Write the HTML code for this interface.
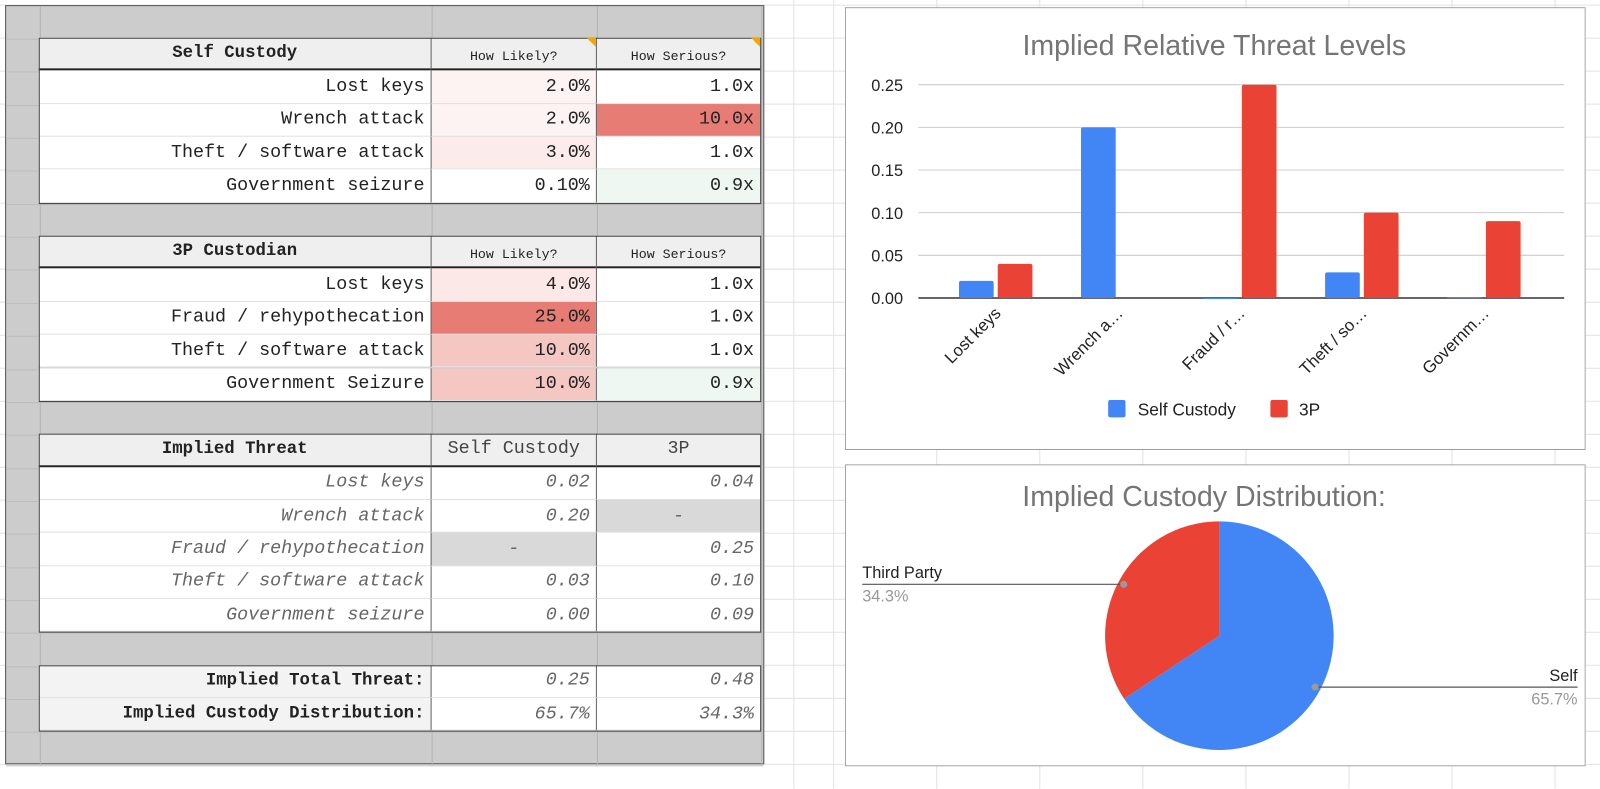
<!DOCTYPE html>
<html><head><meta charset="utf-8"><style>
body{margin:0;width:1600px;height:773px;position:relative;overflow:hidden;background:#fff;font-family:"Liberation Sans",sans-serif}
#wrap{position:absolute;left:0;top:0;width:1568px;height:758px;transform:scale(1.0204);transform-origin:0 0}
.abs{position:absolute;box-sizing:border-box}
.c{position:absolute;box-sizing:border-box;font-family:"Liberation Mono",monospace;font-size:18px;color:#222;text-align:right;padding-right:6px;display:flex;align-items:center;justify-content:flex-end;white-space:nowrap}
.hd{font-size:13px;justify-content:center;padding:0;padding-top:6px}
.bold{font-weight:bold;font-size:17px}
.it{font-style:italic;color:#666}
svg text{font-family:"Liberation Sans",sans-serif}
</style></head><body>
<div id="wrap">
<svg id="bg" class="abs" style="left:0;top:0" width="1600" height="773"></svg>
<div id="panel" class="abs" style="left:5px;top:5px;width:744px;height:744px;background:#cccccc;border:1px solid #555"></div>
<div id="cells"></div>

<svg id="bar" class="abs" style="left:828px;top:7px" width="726" height="434"></svg>
<svg id="pie" class="abs" style="left:828px;top:455px" width="726" height="296"></svg>
</div>
<script>
const NS='http://www.w3.org/2000/svg';
function mk(tag,attrs,parent){const e=document.createElementNS(NS,tag);for(const k in attrs)e.setAttribute(k,attrs[k]);parent.appendChild(e);return e;}
const bg=document.getElementById('bg');
for(let y=5;y<773;y+=32.35){mk('line',{x1:0,x2:1600,y1:y,y2:y,stroke:'#e2e2e2','stroke-width':1},bg);}
[778,817,918,1019,1120,1221,1322,1423,1524].forEach(x=>mk('line',{x1:x,x2:x,y1:0,y2:773,stroke:'#e2e2e2','stroke-width':1},bg));

const cells=document.getElementById('cells');
const X=[38,422,584,745];
const RH=32.35,Y0=37;
function ry(i){return Y0+i*RH;}
const panel=document.getElementById('panel');
[38,422,584,745].forEach(x=>{const d=document.createElement('div');d.className='abs';d.style.cssText=`left:${x-5}px;top:0;width:1px;height:744px;background:#b4b4b4`;


panel.appendChild(d);});
for(let i=0;i<=22;i++){const d=document.createElement('div');d.className='abs';d.style.cssText=`left:0;top:${ry(i)-5}px;width:742px;height:1px;background:#bdbdbd`;


panel.appendChild(d);}

const rows=[
 {i:0,t:'hdr',v:['Self Custody','How Likely?','How Serious?'],bg:['#efefef','#efefef','#efefef']},
 {i:1,v:['Lost keys','2.0%','1.0x'],bg:['#fff','#fdf3f2','#fff']},
 {i:2,v:['Wrench attack','2.0%','10.0x'],bg:['#fff','#fdf3f2','#e67c73']},
 {i:3,v:['Theft / software attack','3.0%','1.0x'],bg:['#fff','#fbeceb','#fff']},
 {i:4,v:['Government seizure','0.10%','0.9x'],bg:['#fff','#fff','#eef7f1']},
 {i:6,t:'hdr',v:['3P Custodian','How Likely?','How Serious?'],bg:['#efefef','#efefef','#efefef']},
 {i:7,v:['Lost keys','4.0%','1.0x'],bg:['#fff','#fce8e6','#fff']},
 {i:8,v:['Fraud / rehypothecation','25.0%','1.0x'],bg:['#fff','#e67c73','#fff']},
 {i:9,v:['Theft / software attack','10.0%','1.0x'],bg:['#fff','#f4c7c3','#fff']},
 {i:10,v:['Government Seizure','10.0%','0.9x'],bg:['#fff','#f4c7c3','#eef7f1']},
 {i:12,t:'hdr3',v:['Implied Threat','Self Custody','3P'],bg:['#efefef','#efefef','#efefef']},
 {i:13,t:'it',v:['Lost keys','0.02','0.04'],bg:['#fff','#fff','#fff']},
 {i:14,t:'it',v:['Wrench attack','0.20','-'],bg:['#fff','#fff','#d9d9d9']},
 {i:15,t:'it',v:['Fraud / rehypothecation','-','0.25'],bg:['#fff','#d9d9d9','#fff']},
 {i:16,t:'it',v:['Theft / software attack','0.03','0.10'],bg:['#fff','#fff','#fff']},
 {i:17,t:'it',v:['Government seizure','0.00','0.09'],bg:['#fff','#fff','#fff']},
 {i:19,t:'tot',v:['Implied Total Threat:','0.25','0.48'],bg:['#f3f3f3','#fff','#fff']},
 {i:20,t:'tot',v:['Implied Custody Distribution:','65.7%','34.3%'],bg:['#f3f3f3','#fff','#fff']},
];
rows.forEach(r=>{
 for(let c=0;c<3;c++){
  const d=document.createElement('div');d.className='c';
  d.style.left=X[c]+'px';d.style.top=ry(r.i)+'px';d.style.width=(X[c+1]-X[c])+'px';d.style.height=RH+'px';
  d.style.background=r.bg[c];
  d.style.borderBottom='1px solid #e2e2e2';
  if(c>0)d.style.borderLeft='1px solid #666';
  d.textContent=r.v[c];
  if(r.t==='hdr'){ if(c===0){d.classList.add('bold');d.style.justifyContent='center';d.style.padding='0';} else d.classList.add('hd'); d.style.borderBottom='2px solid #222';}
  if(r.t==='hdr3'){ if(c===0){d.classList.add('bold');d.style.justifyContent='center';d.style.padding='0';} else {d.style.justifyContent='center';d.style.padding='0';d.style.color='#444';} d.style.borderBottom='2px solid #222';}
  if(r.t==='it'){ d.classList.add('it'); if(r.v[c]==='-'){d.style.justifyContent='center';d.style.padding='0';}}
  if(r.t==='tot'){ if(c===0)d.classList.add('bold'); else d.classList.add('it');}
  
  
  cells.appendChild(d);
 }
});
[[0,5],[6,11],[12,18],[19,21]].forEach(([a,b])=>{const d=document.createElement('div');d.className='abs';
d.style.cssText=`left:38px;top:${ry(a)}px;width:708px;height:${ry(b)-ry(a)+1}px;border:1.5px solid #444;pointer-events:none`;


cells.appendChild(d);});
[[584,37],[745,37]].forEach(([x,y])=>{const d=document.createElement('div');d.className='abs';
d.style.cssText=`left:${x-9}px;top:${y}px;width:0;height:0;border-left:9px solid transparent;border-top:9px solid #f2a600`;


cells.appendChild(d);});

// ===== Bar chart =====
const categories=['Lost keys','Wrench a…','Fraud / r…','Theft / so…','Governm…'];
const selfValues=[0.02,0.20,0,0.03,0.001];
const thirdValues=[0.04,0,0.25,0.10,0.09];
const yTicks=[0,0.05,0.10,0.15,0.20,0.25];
const yTickLabels=['0.00','0.05','0.10','0.15','0.20','0.25'];
const bar=document.getElementById('bar');
mk('rect',{x:0.5,y:0.5,width:725,height:433,fill:'#fff',stroke:'#9e9e9e'},bar);
const bt=mk('text',{x:362,y:47,'text-anchor':'middle','font-size':28,fill:'#757575'},bar);bt.textContent='Implied Relative Threat Levels';


const PL=72,PR=705,PT=76,PB=285,VMAX=0.25;
const yS=v=>PB-(v/VMAX)*(PB-PT);
const bandL=88,bandW=119.6;
const xC=i=>bandL+bandW*(i+0.5);
yTicks.forEach((v,i)=>{
 const l=mk('line',{x1:PL,x2:PR,y1:yS(v),y2:yS(v),stroke:v===0?'#333':'#ccc','stroke-width':v===0?1.5:1},bar);
 
 
 const t=mk('text',{x:57,y:yS(v)+6,'text-anchor':'end','font-size':16,fill:'#222'},bar);t.textContent=yTickLabels[i];
 
 
});
const BW=34;
categories.forEach((c,i)=>{
 const cx=xC(i);
 const hs=PB-yS(selfValues[i]);
 const r1=mk('rect',{x:cx-BW-2,y:yS(selfValues[i]),width:BW,height:Math.max(hs,1),fill:'#4285f4',rx:2},bar);
 
 
 const h3=PB-yS(thirdValues[i]);
 if(thirdValues[i]>0){const r2=mk('rect',{x:cx+2,y:yS(thirdValues[i]),width:BW,height:h3,fill:'#ea4335',rx:2},bar);
 
 }
 const t=mk('text',{x:cx+6,y:PB+16,'text-anchor':'end','font-size':16.5,fill:'#222',transform:`rotate(-45 ${cx+6} ${PB+16})`},bar);t.textContent=c;
 
 
});
const lg1=mk('rect',{x:258,y:385,width:17,height:17,fill:'#4285f4',rx:2},bar);


const lt1=mk('text',{x:287,y:400,'font-size':17,fill:'#222'},bar);lt1.textContent='Self Custody';


const lg2=mk('rect',{x:417,y:385,width:17,height:17,fill:'#ea4335',rx:2},bar);


const lt2=mk('text',{x:445,y:400,'font-size':17,fill:'#222'},bar);lt2.textContent='3P';



// ===== Pie chart =====
const pieLabels=['Self','Third Party'];
const pieValues=[65.7,34.3];
const pieColors=['#4285f4','#ea4335'];
const pie=document.getElementById('pie');
mk('rect',{x:0.5,y:0.5,width:725,height:295,fill:'#fff',stroke:'#9e9e9e'},pie);
const pt=mk('text',{x:352,y:41,'text-anchor':'middle','font-size':28,fill:'#757575'},pie);pt.textContent='Implied Custody Distribution:';


const CX=367,CY=168,R=112;
const total=pieValues.reduce((a,b)=>a+b,0);
let ang=0;
pieValues.forEach((v,i)=>{
 const a0=ang,a1=ang+v/total*2*Math.PI;ang=a1;
 const p=(a)=>[CX+R*Math.sin(a),CY-R*Math.cos(a)];
 const [x0,y0]=p(a0),[x1,y1]=p(a1);
 const large=(a1-a0)>Math.PI?1:0;
 const s=mk('path',{d:`M${CX},${CY}L${x0},${y0}A${R},${R} 0 ${large} 1 ${x1},${y1}Z`,fill:pieColors[i]},pie);
 
 
 const mid=(a0+a1)/2;
 const dx=CX+R*0.95*Math.sin(mid),dy=CY-R*0.95*Math.cos(mid);
 const right=Math.sin(mid)>0;
 const ex=right?718:17;
 const ln=mk('path',{d:`M${dx},${dy}L${ex},${dy}`,stroke:'#555','stroke-width':1.2,fill:'none'},pie);
 
 
 mk('circle',{cx:dx,cy:dy,r:3.5,fill:'#999'},pie);
 const t=mk('text',{x:ex,y:dy-6,'text-anchor':right?'end':'start','font-size':16,fill:'#222'},pie);t.textContent=pieLabels[i];
 
 
 const t2=mk('text',{x:ex,y:dy+17,'text-anchor':right?'end':'start','font-size':16,fill:'#999'},pie);t2.textContent=v.toFixed(1)+'%';
 
 
});
</script>
</body></html>
